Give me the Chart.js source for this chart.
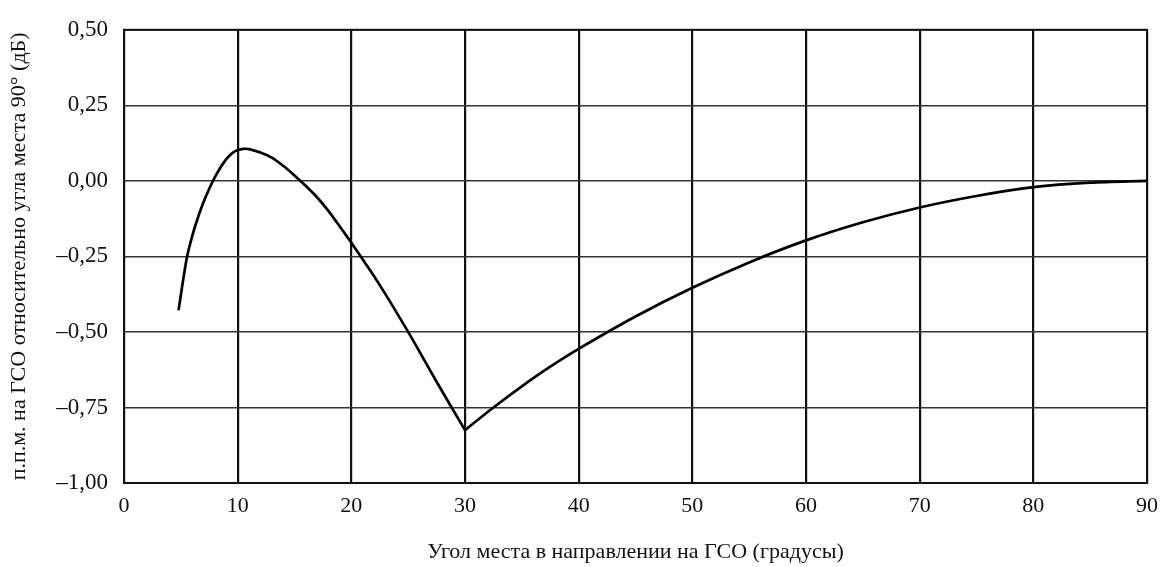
<!DOCTYPE html>
<html>
<head>
<meta charset="utf-8">
<script src="https://cdn.jsdelivr.net/npm/chart.js@4/dist/chart.umd.min.js"></script>
<style>
  html, body { margin: 0; padding: 0; background: #fff; }
  #wrap { width: 1160px; height: 567px; }
</style>
</head>
<body>
<div id="wrap"><canvas id="canvas"></canvas></div>
<script>
// left branch: rises to a peak near 10.5 deg, then falls to the dip at 30 deg
var leftX = [4.8, 5.5, 6, 6.5, 7, 7.5, 8, 8.5, 9, 9.5, 10, 10.5, 11, 12, 13, 14, 15, 16, 17, 18, 19, 20, 22.5, 25, 27.5, 30];
var leftY = [-0.428, -0.26, -0.183, -0.122, -0.07, -0.026, 0.012, 0.045, 0.072, 0.091, 0.102, 0.106, 0.105, 0.094, 0.077, 0.05, 0.018, -0.017, -0.055, -0.10, -0.152, -0.205, -0.345, -0.50, -0.665, -0.825];
// right branch: from the dip back up towards 0 at 90 deg
var rightX = [30, 32.5, 35, 37.5, 40, 45, 50, 55, 60, 65, 70, 75, 80, 85, 90];
var rightY = [-0.825, -0.75, -0.68, -0.615, -0.556, -0.449, -0.354, -0.27, -0.197, -0.137, -0.088, -0.05, -0.021, -0.006, 0.0];

var xTicks = [0, 10, 20, 30, 40, 50, 60, 70, 80, 90];
var yTicks = [-1.0, -0.75, -0.5, -0.25, 0, 0.25, 0.5];

var xTitle = 'Угол места в направлении на ГСО (градусы)';
var yTitle = 'п.п.м. на ГСО относительно угла места 90° (дБ)';

function toPoints(xs, ys) {
  return xs.map(function (x, i) { return { x: x, y: ys[i] }; });
}

function fmt(v) {
  var s = Math.abs(v).toFixed(2).replace('.', ',');
  return v < -1e-9 ? '\u2013' + s : s;
}

var family = '"Liberation Serif", "Times New Roman", serif';

var lineStyle = {
  borderColor: '#000',
  borderWidth: 2.7,
  pointRadius: 0,
  fill: false,
  tension: 0.3
};

new Chart(document.getElementById('canvas').getContext('2d'), {
  type: 'line',
  data: {
    datasets: [
      Object.assign({ data: toPoints(leftX, leftY) }, lineStyle),
      Object.assign({ data: toPoints(rightX, rightY) }, lineStyle)
    ]
  },
  options: {
    responsive: true,
    maintainAspectRatio: false,
    animation: false,
    layout: { padding: { top: 29, right: 0, left: 0, bottom: 0 } },
    plugins: { legend: { display: false }, tooltip: { enabled: false } },
    scales: {
      x: {
        type: 'linear',
        min: 0,
        max: 90,
        afterBuildTicks: function (s) { s.ticks = xTicks.map(function (v) { return { value: v }; }); },
        afterFit: function (s) { s.height = 84; s.paddingRight = 13; s.paddingLeft = 0; },
        grid: { color: '#111', lineWidth: 2.2, drawTicks: false },
        border: { color: '#111', width: 2 },
        ticks: { color: '#111', font: { family: family, size: 22 }, padding: 10, maxRotation: 0 },
        title: { display: true, text: xTitle, color: '#111', font: { family: family, size: 22 }, padding: { top: 0, bottom: 2 } }
      },
      y: {
        min: -1,
        max: 0.5,
        afterBuildTicks: function (s) { s.ticks = yTicks.map(function (v) { return { value: v }; }); },
        afterFit: function (s) { s.width = 124; },
        grid: { color: '#333', lineWidth: 1.4, drawTicks: false },
        border: { color: '#111', width: 2 },
        ticks: { color: '#111', font: { family: family, size: 23 }, padding: 16, callback: function (v) { return fmt(v); } },
        title: { display: true, text: yTitle, color: '#111', font: { family: family, size: 22 }, padding: { top: 6, bottom: 0 } }
      }
    }
  },
  plugins: [{
    // closed frame round the plot box
    id: 'frame',
    afterDatasetsDraw: function (chart) {
      var a = chart.chartArea, c = chart.ctx;
      c.save();
      c.strokeStyle = '#111';
      c.lineWidth = 2;
      c.strokeRect(a.left, a.top, a.right - a.left, a.bottom - a.top);
      c.restore();
    }
  }]
});
</script>
</body>
</html>
